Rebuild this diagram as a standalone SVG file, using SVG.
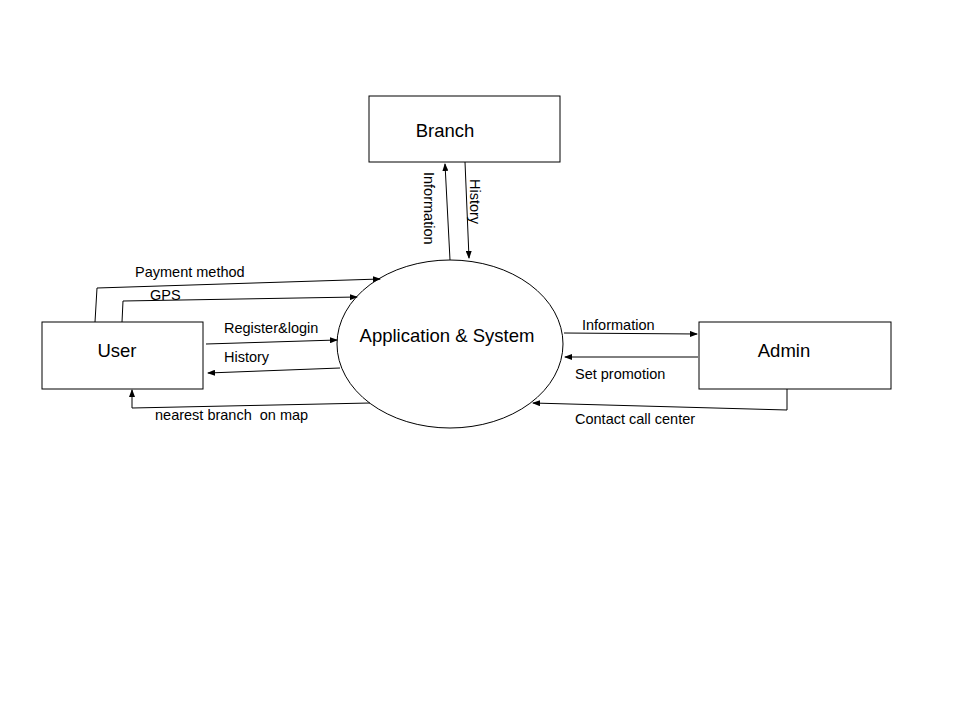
<svg xmlns="http://www.w3.org/2000/svg" width="960" height="720" viewBox="0 0 960 720">
<defs>
<marker id="arr" markerWidth="8" markerHeight="6" refX="7" refY="3" orient="auto" markerUnits="userSpaceOnUse">
<path d="M0,0 L8,3 L0,6 Z" fill="#000"/>
</marker>
<style>
.box{fill:#fff;stroke:#000;stroke-width:1}
.nl{font-family:"Liberation Sans",Arial,sans-serif;font-size:18.5px;fill:#000;text-anchor:middle}
.el{font-family:"Liberation Sans",Arial,sans-serif;font-size:14.5px;fill:#000}
.c{fill:none;stroke:#000;stroke-width:1;marker-end:url(#arr)}
</style>
</defs>
<rect width="960" height="720" fill="#fff"/>
<g id="branch"><rect class="box" x="369" y="96" width="191" height="66"/><text class="nl" x="445" y="137">Branch</text></g>
<g id="user"><rect class="box" x="42" y="322" width="161" height="67"/><text class="nl" x="117" y="357">User</text></g>
<g id="admin"><rect class="box" x="699" y="322" width="192" height="67"/><text class="nl" x="784" y="357">Admin</text></g>
<g id="app"><ellipse class="box" cx="450" cy="344" rx="113" ry="84"/><text class="nl" x="447" y="342">Application &amp; System</text></g>
<g id="connectors">
<path class="c" d="M95,322 L97,288 L380,279"/>
<path class="c" d="M122,322 L123,301 L357,297"/>
<path class="c" d="M206,344 L337,340"/>
<path class="c" d="M340,368 L208,373"/>
<path class="c" d="M370,403 L132,408 L132,390"/>
<path class="c" d="M450,260 L445,164"/>
<path class="c" d="M465,162 L469,258"/>
<path class="c" d="M564,333 L697,334"/>
<path class="c" d="M698,357 L565,357"/>
<path class="c" d="M787,389 L787,410 L533,403"/>
<text class="el" x="135" y="277">Payment method</text>
<text class="el" x="150" y="300">GPS</text>
<text class="el" x="224" y="333">Register&amp;login</text>
<text class="el" x="224" y="362">History</text>
<text class="el" x="155" y="420" xml:space="preserve">nearest branch  on map</text>
<text class="el" transform="translate(424,172) rotate(90)">Information</text>
<text class="el" transform="translate(470,179) rotate(90)">History</text>
<text class="el" x="582" y="330">Information</text>
<text class="el" x="575" y="379">Set promotion</text>
<text class="el" x="575" y="424">Contact call center</text>
</g>
</svg>
